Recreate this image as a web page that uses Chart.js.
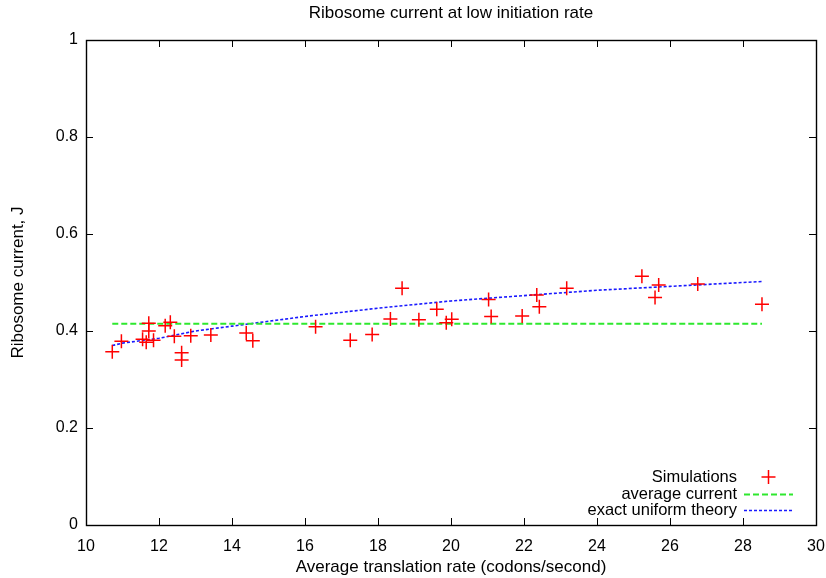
<!DOCTYPE html>
<html>
<head>
<meta charset="utf-8">
<script src="https://cdn.jsdelivr.net/npm/chart.js@4.4.1/dist/chart.umd.min.js"></script>
<style>
    html, body { margin: 0; padding: 0; background: #ffffff; }
    #wrap { width: 826px; height: 578px; }
</style>
</head>
<body>
<div id="wrap"><canvas id="ribosomeChart" width="826" height="578"></canvas></div>
<script>
const chartTitle = "Ribosome current at low initiation rate";
const xTitle = "Average translation rate (codons/second)";
const yTitle = "Ribosome current, J";

const xTicks = [10, 12, 14, 16, 18, 20, 22, 24, 26, 28, 30];
const yTicks = [0, 0.2, 0.4, 0.6, 0.8, 1];

// simulation points
const simX = [10.72, 10.97, 11.55, 11.65, 11.72, 11.72, 11.85, 12.17, 12.31, 12.42,
    12.62, 12.62, 12.87, 13.42, 14.39, 14.57, 16.29, 17.24, 17.84, 18.34,
    18.66, 19.12, 19.61, 19.87, 20.02, 21.03, 21.10, 21.95, 22.35, 22.42,
    23.17, 25.23, 25.59, 25.69, 26.76, 28.52];
const simY = [0.357, 0.379, 0.383, 0.377, 0.416, 0.400, 0.381, 0.411, 0.418, 0.389,
    0.355, 0.340, 0.390, 0.392, 0.396, 0.380, 0.409, 0.381, 0.393, 0.425,
    0.488, 0.423, 0.445, 0.417, 0.424, 0.465, 0.430, 0.431, 0.474, 0.450,
    0.488, 0.513, 0.469, 0.495, 0.497, 0.455];

// average current
const avgX = [10.72, 28.52];
const avgY = [0.415, 0.415];

// exact uniform theory
const theoryX = [10.72, 11, 12, 13, 14, 15, 16, 18, 20, 22, 24, 26, 28, 28.52];
const theoryY = [0.370, 0.375, 0.385, 0.400, 0.410, 0.420, 0.430, 0.447, 0.462, 0.473, 0.484, 0.492, 0.500, 0.502];

const FONT = "Liberation Sans, Arial, Helvetica, sans-serif";

function toPoints(xs, ys) {
    return xs.map((x, i) => ({ x: x, y: ys[i] }));
}

const gnuplotFrame = {
    id: "gnuplotFrame",
    afterDraw(chart) {
        const ctx = chart.ctx;
        const area = chart.chartArea;
        const xs = chart.scales.x;
        const ys = chart.scales.y;
        const tick = 7;

        ctx.save();
        ctx.strokeStyle = "#000000";
        ctx.lineWidth = 1;

        // ticks on all four sides, pointing inward
        ctx.beginPath();
        xTicks.forEach((v) => {
            const px = Math.round(xs.getPixelForValue(v)) + 0.5;
            ctx.moveTo(px, area.bottom);
            ctx.lineTo(px, area.bottom - tick);
            ctx.moveTo(px, area.top);
            ctx.lineTo(px, area.top + tick);
        });
        yTicks.forEach((v) => {
            const py = Math.round(ys.getPixelForValue(v)) + 0.5;
            ctx.moveTo(area.left, py);
            ctx.lineTo(area.left + tick, py);
            ctx.moveTo(area.right, py);
            ctx.lineTo(area.right - tick, py);
        });
        ctx.stroke();

        ctx.lineWidth = 1.4;
        ctx.strokeRect(Math.round(area.left) + 0.5, Math.round(area.top) + 0.5,
            Math.round(area.right - area.left), Math.round(area.bottom - area.top));

        // titles
        ctx.fillStyle = "#000000";
        ctx.font = "17px " + FONT;
        ctx.textAlign = "center";
        ctx.textBaseline = "middle";
        const cx = (area.left + area.right) / 2;
        ctx.fillText(chartTitle, cx, 13);
        ctx.fillText(xTitle, cx, 567);

        ctx.save();
        ctx.translate(18, (area.top + area.bottom) / 2);
        ctx.rotate(-Math.PI / 2);
        ctx.fillText(yTitle, 0, 0);
        ctx.restore();

        // legend, bottom right inside the frame
        const rowY = [477, 494, 510];
        const textRight = 737;
        const sampleL = 744;
        const sampleR = 793;
        ctx.font = "16.5px " + FONT;
        ctx.textAlign = "right";
        chart.data.datasets.forEach((ds, i) => {
            const y = rowY[i];
            ctx.fillStyle = "#000000";
            ctx.fillText(ds.label, textRight, y);
            ctx.strokeStyle = ds.borderColor;
            ctx.lineWidth = ds.borderWidth;
            if (ds.showLine) {
                ctx.setLineDash(ds.borderDash || []);
                ctx.beginPath();
                ctx.moveTo(sampleL, y + 0.5);
                ctx.lineTo(sampleR, y + 0.5);
                ctx.stroke();
                ctx.setLineDash([]);
            } else {
                const c = (sampleL + sampleR) / 2;
                const r = ds.pointRadius;
                ctx.beginPath();
                ctx.moveTo(c - r, y);
                ctx.lineTo(c + r, y);
                ctx.moveTo(c, y - r);
                ctx.lineTo(c, y + r);
                ctx.stroke();
            }
        });
        ctx.restore();
    }
};

new Chart(document.getElementById("ribosomeChart"), {
    type: "scatter",
    data: {
        datasets: [
            {
                label: "Simulations",
                data: toPoints(simX, simY),
                pointStyle: "cross",
                pointRadius: 7,
                pointHoverRadius: 7,
                borderColor: "#ff0000",
                backgroundColor: "#ff0000",
                borderWidth: 1.5,
                showLine: false
            },
            {
                label: "average current",
                data: toPoints(avgX, avgY),
                showLine: true,
                pointRadius: 0,
                borderColor: "#2ee82e",
                borderWidth: 2,
                borderDash: [6, 3],
                fill: false
            },
            {
                label: "exact uniform theory",
                data: toPoints(theoryX, theoryY),
                showLine: true,
                pointRadius: 0,
                borderColor: "#1a1aff",
                borderWidth: 1.6,
                borderDash: [3, 2],
                tension: 0,
                fill: false
            }
        ]
    },
    options: {
        responsive: false,
        animation: false,
        events: [],
        layout: { padding: { top: 40, right: 10, left: 0, bottom: 0 } },
        plugins: {
            legend: { display: false },
            title: { display: false },
            tooltip: { enabled: false }
        },
        scales: {
            x: {
                type: "linear",
                min: 10,
                max: 30,
                afterFit: (scale) => {
                    scale.height = 53;
                    scale.paddingLeft = 0;
                    scale.paddingRight = 0;
                },
                afterBuildTicks: (scale) => { scale.ticks = xTicks.map((v) => ({ value: v })); },
                grid: { display: false, drawTicks: false },
                border: { display: false },
                ticks: {
                    color: "#000000",
                    font: { family: FONT, size: 16 },
                    padding: 12,
                    maxRotation: 0,
                    callback: (v) => String(v)
                }
            },
            y: {
                type: "linear",
                min: 0,
                max: 1,
                afterFit: (scale) => {
                    scale.width = 86;
                    scale.paddingTop = 0;
                    scale.paddingBottom = 0;
                },
                afterBuildTicks: (scale) => { scale.ticks = yTicks.map((v) => ({ value: v })); },
                grid: { display: false, drawTicks: false },
                border: { display: false },
                ticks: {
                    color: "#000000",
                    font: { family: FONT, size: 16 },
                    padding: 8,
                    callback: (v) => String(v)
                }
            }
        }
    },
    plugins: [gnuplotFrame]
});
</script>
</body>
</html>
